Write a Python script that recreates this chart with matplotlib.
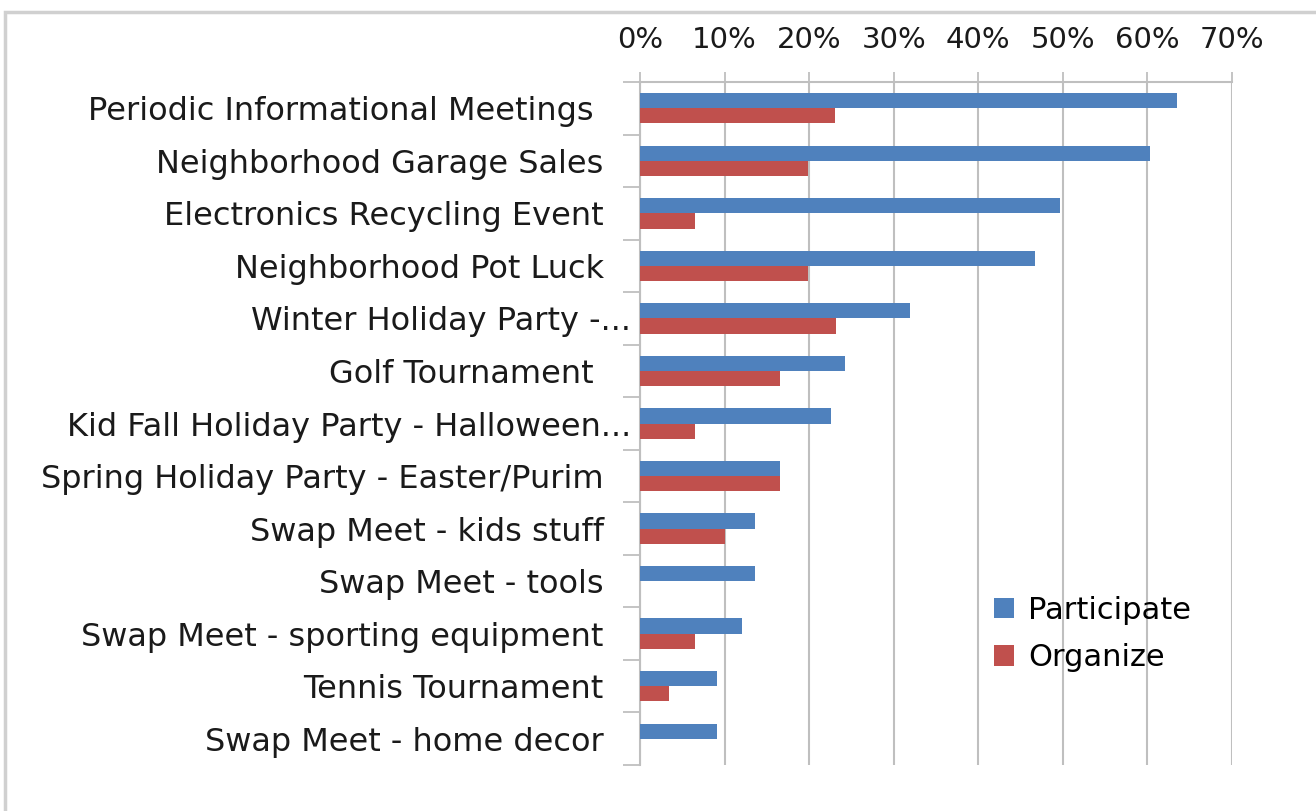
import numpy as np
import matplotlib.pyplot as plt
from matplotlib.patches import Rectangle
from matplotlib.ticker import PercentFormatter
from matplotlib.transforms import ScaledTranslation

categories = [
    "Periodic Informational Meetings ",
    "Neighborhood Garage Sales",
    "Electronics Recycling Event",
    "Neighborhood Pot Luck",
    "Winter Holiday Party -...",
    "Golf Tournament ",
    "Kid Fall Holiday Party - Halloween...",
    "Spring Holiday Party - Easter/Purim",
    "Swap Meet - kids stuff",
    "Swap Meet - tools",
    "Swap Meet - sporting equipment",
    "Tennis Tournament",
    "Swap Meet - home decor",
]
participate = [63.5, 60.3, 49.7, 46.7, 31.9, 24.3, 22.6, 16.6, 13.6, 13.6, 12.1, 9.1, 9.1]
organize = [23.1, 19.9, 6.5, 19.9, 23.2, 16.6, 6.5, 16.6, 10.0, 0.0, 6.5, 3.4, 0.0]
x_ticks = [0, 10, 20, 30, 40, 50, 60, 70]

blue = "#4F81BD"
red = "#C0504D"
grid_col = "#BFBFBF"

plt.rcParams['font.family'] = ['DejaVu Sans']

fig = plt.figure(figsize=(13.16, 8.11), dpi=100)
ax = fig.add_axes([0.4863, 0.0567, 0.4498, 0.8422])

# outer chart frame
fig.add_artist(Rectangle((0.004, -0.05), 1.1, 1.035, transform=fig.transFigure,
                         fill=False, edgecolor="#D0D0D0", linewidth=2.5))

n = len(categories)
y = np.arange(n)
h = 0.29
ax.barh(y - h / 2, participate, height=h, color=blue, label="Participate", zorder=3)
ax.barh(y + h / 2, organize, height=h, color=red, label="Organize", zorder=3)

ax.set_ylim(n - 0.5, -0.5)
ax.set_xlim(0, 70)
ax.set_xticks(x_ticks)
ax.xaxis.set_major_formatter(PercentFormatter(decimals=0))
ax.xaxis.tick_top()
ax.tick_params(axis='x', direction='out', length=7, width=1.3, color=grid_col,
               labelsize=21, pad=13, labelcolor="#1a1a1a")
ax.grid(axis='x', color=grid_col, linewidth=1.5, zorder=0)

ax.set_yticks(y)
ax.set_yticklabels(categories)
ax.set_yticks(np.arange(n + 1) - 0.5, minor=True)
ax.tick_params(axis='y', which='major', length=0, labelsize=23, pad=26, labelcolor="#1a1a1a")
ax.tick_params(axis='y', which='minor', direction='out', length=12, width=1.3, color=grid_col)

# truncated labels: the ellipsis runs past the usual right edge
for lab in ax.get_yticklabels():
    if lab.get_text().endswith("..."):
        lab.set_transform(lab.get_transform() + ScaledTranslation(0.27, 0, fig.dpi_scale_trans))

for s in ['right', 'bottom']:
    ax.spines[s].set_visible(False)
for s in ['left', 'top']:
    ax.spines[s].set_color(grid_col)
    ax.spines[s].set_linewidth(1.5)

ax.legend(loc='upper left', bbox_to_anchor=(0.744, 0.284), bbox_transform=fig.transFigure,
          frameon=False, fontsize=22, handlelength=0.65, handleheight=0.65,
          handletextpad=0.45, labelspacing=0.6, borderpad=0)

fig.savefig("out.png", dpi=100)
